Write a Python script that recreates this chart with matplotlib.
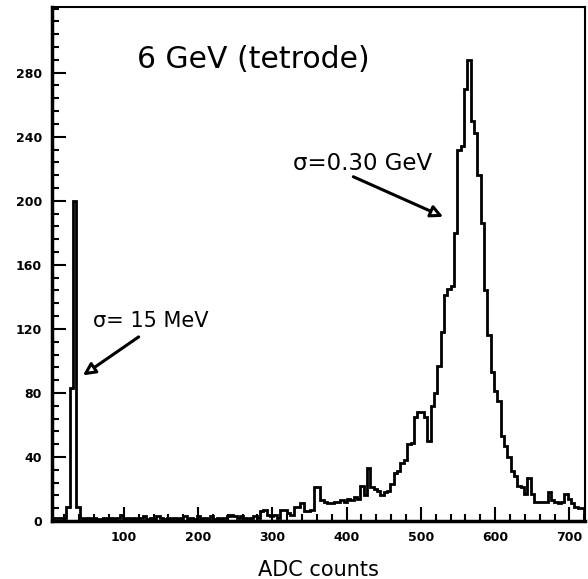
import numpy as np
import matplotlib
matplotlib.use("Agg")
import matplotlib.pyplot as plt
from matplotlib.ticker import MultipleLocator

# histogram: 160 bins of 4.5 ADC counts between 0 and 720
bin_edges = np.linspace(0, 720, 161)
counts = [
    2, 2, 2, 2, 2, 9, 83, 200, 9, 2,
    1, 2, 1, 2, 1, 1, 2, 1, 2, 1,
    2, 4, 1, 2, 1, 2, 1, 2, 3, 1,
    2, 1, 3, 2, 1, 2, 1, 2, 1, 2,
    3, 1, 2, 1, 3, 1, 2, 1, 3, 1,
    2, 1, 2, 3, 4, 3, 2, 3, 2, 1,
    2, 3, 2, 6, 7, 4, 3, 4, 2, 7,
    7, 5, 4, 9, 9, 11, 6, 6, 7, 21,
    21, 13, 12, 11, 11, 12, 12, 13, 12, 14,
    13, 15, 14, 22, 16, 33, 21, 20, 19, 16,
    18, 19, 23, 30, 31, 36, 38, 48, 49, 65,
    68, 68, 65, 50, 72, 80, 97, 118, 141, 145,
    147, 180, 232, 234, 270, 288, 250, 242, 216, 186,
    144, 116, 93, 81, 75, 53, 47, 40, 31, 28,
    22, 21, 17, 27, 17, 12, 12, 12, 12, 18,
    13, 12, 11, 12, 17, 14, 11, 9, 8, 8,
]

x_ticks = [100, 200, 300, 400, 500, 600, 700]
y_ticks = [0, 40, 80, 120, 160, 200, 240, 280]

fig = plt.figure(figsize=(5.88, 5.79), dpi=100)
ax = fig.add_axes([0.088, 0.1, 0.907, 0.888])

ax.stairs(counts, bin_edges, color="black", lw=2.0)

ax.set_xlim(3, 721)
ax.set_ylim(0, 321)
ax.set_xticks(x_ticks)
ax.set_yticks(y_ticks)
ax.xaxis.set_minor_locator(MultipleLocator(20))
ax.yaxis.set_minor_locator(MultipleLocator(8))
ax.tick_params(which="both", direction="in", top=False, right=False, width=1.5)
ax.tick_params(which="major", length=10, labelsize=9, pad=7)
ax.tick_params(which="minor", length=5)
for lab in ax.get_xticklabels() + ax.get_yticklabels():
    lab.set_fontweight("bold")
for sp in ax.spines.values():
    sp.set_linewidth(1.5)
ax.spines["left"].set_linewidth(2.5)
ax.spines["bottom"].set_linewidth(2.5)

ax.set_xlabel("ADC counts", fontsize=15, labelpad=12)

ax.text(0.16, 0.897, "6 GeV (tetrode)", transform=ax.transAxes,
        fontsize=21.5, ha="left", va="center")

arrow = dict(arrowstyle="-|>", lw=2.2, color="black", fc="white",
             mutation_scale=18, shrinkA=0, shrinkB=0)
ax.text(328, 223, "σ=0.30 GeV", fontsize=16.5, ha="left", va="center")
ax.annotate("", xy=(530, 190), xytext=(409, 215), arrowprops=arrow)
ax.text(58, 125, "σ= 15 MeV", fontsize=15, ha="left", va="center")
ax.annotate("", xy=(45, 91), xytext=(120, 115), arrowprops=arrow)

fig.savefig("out.png", dpi=100)
